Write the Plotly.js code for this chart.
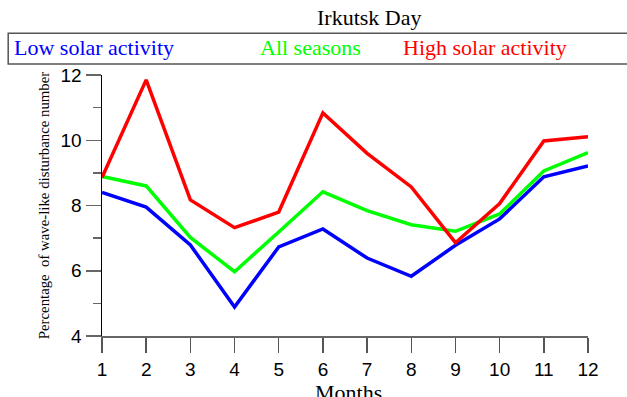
<!DOCTYPE html>
<html>
<head>
<meta charset="utf-8">
<script src="https://cdn.plot.ly/plotly-3.0.1.min.js"></script>
<style>html,body{margin:0;padding:0;background:#fff;}#chart{width:627px;height:397px;}</style>
</head>
<body>
<div id="chart"></div>
<script>
const months = [1, 2, 3, 4, 5, 6, 7, 8, 9, 10, 11, 12];
const lowSolar = [8.40, 7.95, 6.79, 4.89, 6.73, 7.28, 6.39, 5.83, 6.78, 7.59, 8.88, 9.21];
const allSeasons = [8.89, 8.60, 7.02, 5.97, 7.19, 8.42, 7.84, 7.41, 7.21, 7.74, 9.06, 9.62];
const highSolar = [8.86, 11.85, 8.17, 7.32, 7.80, 10.84, 9.60, 8.57, 6.86, 8.06, 9.98, 10.11];
const seriesNames = ['Low solar activity', 'All seasons', 'High solar activity'];
const seriesColors = ['#0000ff', '#00ff00', '#ff0000'];

const serif = "'Liberation Serif', serif";
const sans = "'Liberation Sans', sans-serif";

const seriesData = [lowSolar, allSeasons, highSolar];
const traces = seriesData.map((ys, i) => ({
  x: months, y: ys, type: 'scatter', mode: 'lines', name: seriesNames[i],
  line: {color: seriesColors[i], width: 3.5}, showlegend: false
}));

const legendX = [-0.185, 0.320, 0.615];
const annotations = seriesNames.map((n, i) => ({
  text: n, xref: 'paper', yref: 'paper', x: legendX[i], y: 1.107,
  xanchor: 'left', yanchor: 'middle', showarrow: false,
  font: {family: serif, size: 22, color: seriesColors[i]}
}));
annotations.push({
  text: 'Irkutsk Day', xref: 'paper', yref: 'paper', x: 0.550, y: 1.221,
  xanchor: 'center', yanchor: 'middle', showarrow: false,
  font: {family: serif, size: 22, color: '#000'}
});
annotations.push({
  text: 'Months', xref: 'paper', yref: 'paper', x: 0.508, y: -0.2157,
  xanchor: 'center', yanchor: 'middle', showarrow: false,
  font: {family: serif, size: 22, color: '#000'}
});

const layout = {
  width: 627, height: 397,
  margin: {l: 102, r: 39, t: 75, b: 61},
  paper_bgcolor: '#fff', plot_bgcolor: '#fff',
  showlegend: false,
  xaxis: {
    range: [1, 12], dtick: 1, tick0: 1,
    showgrid: false, zeroline: false,
    showline: true, linecolor: '#666', linewidth: 2,
    ticks: 'outside', ticklen: 15, tickwidth: 1.5, tickcolor: '#555',
    tickfont: {family: sans, size: 19, color: '#000'}
  },
  yaxis: {
    range: [4, 12], dtick: 2, tick0: 4,
    showgrid: false, zeroline: false,
    showline: true, linecolor: '#000', linewidth: 1.5,
    ticks: 'outside', ticklen: 15, tickwidth: 1.5, tickcolor: '#666',
    minor: {dtick: 1, tick0: 4, ticks: 'outside', ticklen: 8, tickwidth: 1.5, tickcolor: '#666', showgrid: false},
    tickfont: {family: sans, size: 19, color: '#000'},
    title: {text: 'Percentage&nbsp; of wave-like disturbance number', font: {family: serif, size: 14.8, color: '#000'}, standoff: 7}
  },
  shapes: [{
    type: 'rect', xref: 'paper', yref: 'paper',
    x0: -0.193, x1: 1.12, y0: 1.042, y1: 1.160,
    line: {color: '#555', width: 1.5}, fillcolor: 'rgba(0,0,0,0)'
  }],
  annotations: annotations
};

Plotly.newPlot('chart', traces, layout, {displayModeBar: false, staticPlot: true});
</script>
</body>
</html>
